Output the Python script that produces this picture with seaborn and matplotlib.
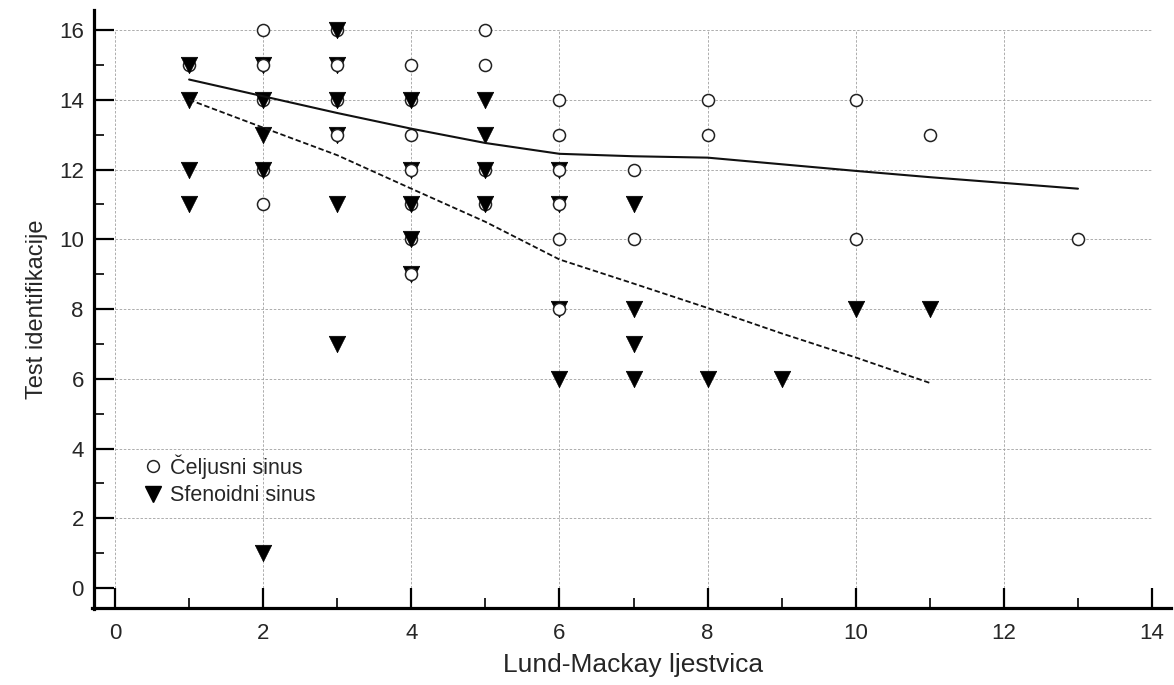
import pandas as pd
import seaborn as sns
import matplotlib.pyplot as plt
from matplotlib.lines import Line2D
from matplotlib.ticker import MultipleLocator

# Čeljusni sinus - krugovi iznad trokuta
celj_x = [2, 2, 2, 3, 3, 4, 4, 4, 4, 5, 5, 6, 6, 6, 6, 6, 6, 7, 7, 8, 8, 10, 10, 11, 13]
celj_y = [16, 15, 11, 15, 13, 15, 13, 12, 9, 16, 15, 14, 13, 12, 11, 10, 8, 12, 10, 14, 13, 14, 10, 13, 10]
# Čeljusni sinus - krugovi ispod trokuta
celj_pod_x = [1, 2, 2, 3, 3, 4, 4, 4, 5, 5]
celj_pod_y = [15, 14, 12, 16, 14, 14, 11, 10, 12, 11]

# Sfenoidni sinus
sfen_x = [1, 1, 1, 1, 2, 2, 2, 2, 2, 3, 3, 3, 3, 3, 3, 4, 4, 4, 4, 4,
          5, 5, 5, 5, 6, 6, 6, 6, 7, 7, 7, 7, 8, 9, 10, 11]
sfen_y = [15, 14, 12, 11, 15, 14, 13, 12, 1, 16, 15, 14, 13, 11, 7, 14, 12, 11, 10, 9,
          14, 13, 12, 11, 12, 11, 8, 6, 11, 8, 7, 6, 6, 6, 8, 8]

# krivulje trenda
celj_fit_x = [1, 2, 3, 4, 5, 6, 7, 8, 10, 11, 13]
celj_fit_y = [14.58, 14.1, 13.62, 13.17, 12.76, 12.45, 12.38, 12.34, 11.96, 11.78, 11.45]
sfen_fit_x = [1, 2, 3, 4, 5, 6, 7, 8, 9, 10, 11]
sfen_fit_y = [14.0, 13.2, 12.41, 11.45, 10.5, 9.42, 8.73, 8.03, 7.3, 6.61, 5.88]

df_celj = pd.DataFrame({"x": celj_x, "y": celj_y})
df_celj_pod = pd.DataFrame({"x": celj_pod_x, "y": celj_pod_y})
df_sfen = pd.DataFrame({"x": sfen_x, "y": sfen_y})
df_celj_fit = pd.DataFrame({"x": celj_fit_x, "y": celj_fit_y})
df_sfen_fit = pd.DataFrame({"x": sfen_fit_x, "y": sfen_fit_y})

sns.set_style("white")
plt.rcParams["font.family"] = ["Liberation Sans", "DejaVu Sans"]

fig = plt.figure(figsize=(11.74, 6.85), dpi=100)
ax = fig.add_axes([0.098, 0.1416, 0.8833, 0.8146])

circ = dict(marker="o", s=75, facecolor="white", edgecolor="#222222", linewidth=1.1, clip_on=False)
sns.scatterplot(data=df_celj_pod, x="x", y="y", ax=ax, zorder=3, **circ)
sns.scatterplot(data=df_sfen, x="x", y="y", ax=ax, marker="v", s=140, color="black",
                edgecolor="black", linewidth=0.5, zorder=4, clip_on=False)
sns.scatterplot(data=df_celj, x="x", y="y", ax=ax, zorder=5, **circ)

sns.lineplot(data=df_celj_fit, x="x", y="y", ax=ax, color="#111111", linewidth=1.5, zorder=6)
sns.lineplot(data=df_sfen_fit, x="x", y="y", ax=ax, color="#111111", linewidth=1.3,
             linestyle=(0, (3, 1.5)), zorder=6)

ax.set_xlim(0, 14)
ax.set_ylim(0, 16)
ax.xaxis.set_major_locator(MultipleLocator(2))
ax.xaxis.set_minor_locator(MultipleLocator(1))
ax.yaxis.set_major_locator(MultipleLocator(2))
ax.yaxis.set_minor_locator(MultipleLocator(1))

ax.grid(True, which="major", color="#a0a0a0", linestyle=(0, (3, 2)), linewidth=0.6)
ax.set_axisbelow(True)

for s in ["top", "right"]:
    ax.spines[s].set_visible(False)
ax.spines["left"].set_position(("outward", 15.5))
ax.spines["bottom"].set_position(("outward", 14.5))
ax.spines["left"].set_bounds(-0.6, 16.57)
ax.spines["bottom"].set_bounds(-0.31, 14.25)
for s in ["left", "bottom"]:
    ax.spines[s].set_linewidth(2.3)
    ax.spines[s].set_color("black")

ax.tick_params(bottom=True, left=True, which="both")
ax.tick_params(axis="both", which="major", direction="in", length=14.5, width=1.6,
               labelsize=16, color="black")
ax.tick_params(axis="both", which="minor", direction="in", length=7, width=1.2, color="black")
ax.tick_params(axis="x", which="major", pad=11)
ax.tick_params(axis="y", which="major", pad=7)

ax.set_xlabel("Lund-Mackay ljestvica", fontsize=19, labelpad=6)
ax.set_ylabel("Test identifikacije", fontsize=17, labelpad=8)

handles = [
    Line2D([], [], marker="o", linestyle="none", markersize=8.5, markerfacecolor="white",
           markeredgecolor="#222222", markeredgewidth=1.1),
    Line2D([], [], marker="v", linestyle="none", markersize=12, color="black"),
]
ax.legend(handles, ["Čeljusni sinus", "Sfenoidni sinus"], loc="lower left",
          bbox_to_anchor=(0.018, 0.131), frameon=False, fontsize=15.5,
          handlelength=1.0, handletextpad=0.3, labelspacing=0.3, borderaxespad=0)

fig.savefig("out.png", dpi=100)
